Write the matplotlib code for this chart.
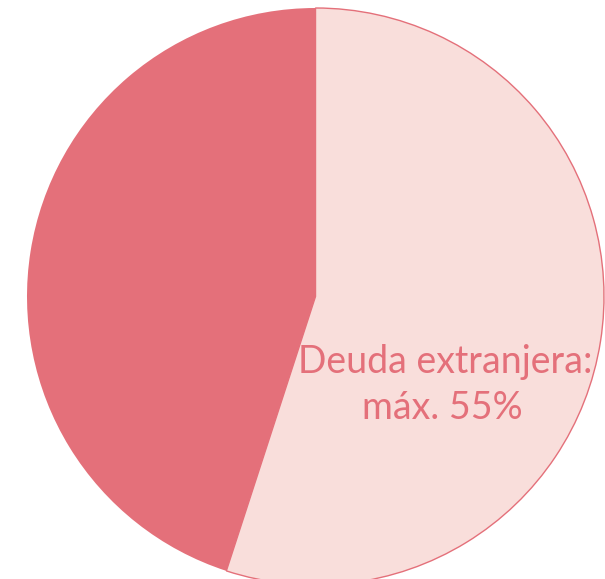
import matplotlib
matplotlib.use('Agg')
import matplotlib.pyplot as plt

# shares of the debt (percent)
categories = ['Deuda extranjera', 'Deuda local']
values = [55, 45]
colors = ['#f9dedb', '#e4707a']
label_lines = ['Deuda extranjera:', 'máx. 55%']

fig = plt.figure(figsize=(6.05, 5.79), dpi=100)
ax = fig.add_axes([27 / 605, -6 / 579, 577 / 605, 577 / 579])

wedges, _ = ax.pie(values, colors=colors, startangle=90, counterclock=False,
                   radius=1, wedgeprops=dict(linewidth=0))
# thin outline around the light slice
wedges[0].set_edgecolor('#e4707a')
wedges[0].set_linewidth(1.0)
for w in wedges:
    w.set_clip_on(False)

ax.set_xlim(-1, 1)
ax.set_ylim(-1, 1)
ax.axis('off')

ax.text(0.449, -0.227, label_lines[0], ha='center', va='center',
        fontsize=27, color='#e4707a', family='Lato')
ax.text(0.440, -0.386, label_lines[1], ha='center', va='center',
        fontsize=27, color='#e4707a', family='Lato')

plt.savefig('out.png', dpi=100)
plt.close(fig)
